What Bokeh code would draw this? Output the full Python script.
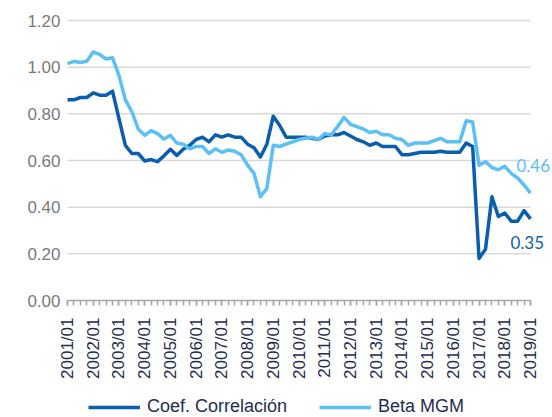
import math
from bokeh.plotting import figure
from bokeh.models import (Range1d, FixedTicker, PrintfTickFormatter, Legend, LegendItem, Label, LinearAxis)
from bokeh.embed import file_html
from bokeh.resources import INLINE

years = list(range(2001, 2020))
year_labels = [f"{y}/01" for y in years]

corr = [0.86, 0.86, 0.87, 0.87, 0.89, 0.88, 0.88, 0.897,
        0.78, 0.665, 0.63, 0.63, 0.598, 0.604, 0.595, 0.62,
        0.648, 0.622, 0.648, 0.665, 0.69, 0.70, 0.68, 0.71,
        0.70, 0.71, 0.70, 0.70, 0.67, 0.655, 0.615, 0.67,
        0.79, 0.75, 0.70, 0.70, 0.70, 0.70, 0.695, 0.69,
        0.705, 0.71, 0.71, 0.72, 0.705, 0.69, 0.68, 0.665,
        0.675, 0.66, 0.66, 0.66, 0.625, 0.625, 0.63, 0.635,
        0.635, 0.635, 0.64, 0.635, 0.635, 0.635, 0.675, 0.66,
        0.18, 0.22, 0.445, 0.36, 0.375, 0.34, 0.34, 0.385,
        0.35]

beta = [1.015, 1.025, 1.02, 1.025, 1.065, 1.055, 1.035, 1.04,
        0.965, 0.86, 0.81, 0.735, 0.708, 0.728, 0.715, 0.692,
        0.708, 0.675, 0.67, 0.65, 0.66, 0.66, 0.63, 0.65,
        0.635, 0.645, 0.64, 0.625, 0.58, 0.545, 0.445, 0.48,
        0.665, 0.66, 0.67, 0.68, 0.69, 0.695, 0.70, 0.69,
        0.715, 0.71, 0.745, 0.785, 0.755, 0.745, 0.735, 0.72,
        0.725, 0.71, 0.71, 0.695, 0.69, 0.665, 0.675, 0.675,
        0.675, 0.685, 0.695, 0.68, 0.68, 0.68, 0.77, 0.765,
        0.58, 0.595, 0.57, 0.56, 0.575, 0.545, 0.525, 0.495,
        0.46]

y_ticks = [0.0, 0.2, 0.4, 0.6, 0.8, 1.0, 1.2]

DARK = "#0B5EAF"
LIGHT = "#5BC0F6"
NAVY = "#1F2D50"
GRAY = "#7A7A7A"
GRID = "#D9D9D9"
AXIS = "#A6A6A6"

n = len(corr)
xs = list(range(n))
YMAX = y_ticks[-1]

# layout of the plotting area, in canvas pixels
W, H = 552, 417
LEFT, RIGHT, TOP, BOTTOM = 67, 530, 20, 300
kx = (RIGHT - LEFT) / (n - 1)
ky = (BOTTOM - TOP) / YMAX
x_range = Range1d(-LEFT / kx, (n - 1) + (W - RIGHT) / kx)
y_range = Range1d(-(H - BOTTOM) / ky, YMAX + TOP / ky)

p = figure(width=W, height=H, output_backend="svg", toolbar_location=None,
           x_range=x_range, y_range=y_range, x_axis_location=None, y_axis_location=None,
           min_border=0)
p.outline_line_color = None
p.grid.visible = False

# gridlines
p.segment(x0=[0] * (len(y_ticks) - 1), x1=[n - 1] * (len(y_ticks) - 1),
          y0=y_ticks[1:], y1=y_ticks[1:], line_color=GRID, line_width=1.5)

r1 = p.line(xs, corr, line_color=DARK, line_width=3.5, line_join="round")
r2 = p.line(xs, beta, line_color=LIGHT, line_width=3.5, line_join="round")

# y axis
yax = LinearAxis(fixed_location=0, bounds=(0, YMAX))
yax.ticker = FixedTicker(ticks=y_ticks)
yax.formatter = PrintfTickFormatter(format="%.2f")
yax.axis_line_color = None
yax.major_tick_line_color = None
yax.minor_tick_line_color = None
yax.major_tick_out = 0
yax.major_tick_in = 0
yax.major_label_standoff = 7
yax.major_label_text_font = "Liberation Sans"
yax.major_label_text_font_size = "17px"
yax.major_label_text_color = GRAY
p.add_layout(yax, "left")

# x axis
major = list(range(0, n, 4))
xax = LinearAxis(fixed_location=0, bounds=(0, n - 1))
xax.ticker = FixedTicker(ticks=major, minor_ticks=xs)
xax.major_label_overrides = {i: year_labels[k] for k, i in enumerate(major)}
xax.major_label_orientation = math.pi / 2
xax.axis_line_color = AXIS
xax.axis_line_width = 1.5
xax.major_tick_line_color = AXIS
xax.minor_tick_line_color = AXIS
xax.major_tick_line_width = 1.5
xax.minor_tick_line_width = 1.5
xax.major_tick_in = 0
xax.major_tick_out = 5
xax.minor_tick_in = 0
xax.minor_tick_out = 5
xax.major_label_standoff = 12
xax.major_label_text_font = "Liberation Sans"
xax.major_label_text_font_size = "17px"
xax.major_label_text_color = NAVY
p.add_layout(xax, "below")

# end labels
p.add_layout(Label(x=n - 1, y=beta[-1], text=f"{beta[-1]:.2f}", x_offset=-14, y_offset=28,
                   text_baseline="middle", text_font="Lato", text_font_size="17px",
                   text_color=LIGHT))
p.add_layout(Label(x=n - 1, y=corr[-1], text=f"{corr[-1]:.2f}", x_offset=-20, y_offset=-24,
                   text_baseline="middle", text_font="Lato", text_font_size="17px",
                   text_color=DARK))

legend = Legend(items=[LegendItem(label="Coef. Correlación", renderers=[r1]),
                       LegendItem(label="Beta MGM", renderers=[r2])],
                location=(88, 0), orientation="horizontal",
                glyph_width=52, glyph_height=20, label_height=20, label_standoff=7,
                spacing=32, padding=0, margin=0,
                border_line_color=None, background_fill_alpha=0,
                label_text_font="Liberation Sans", label_text_font_size="18px",
                label_text_color=NAVY)
p.add_layout(legend, "center")

open("out.html", "w").write(file_html(p, INLINE))
